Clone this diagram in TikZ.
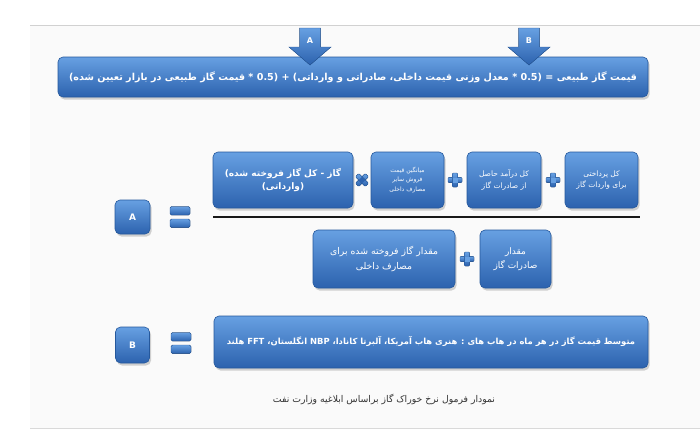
\documentclass[tikz,border=0pt]{standalone}
\usepackage{fontspec}
\setmainfont{DejaVu Sans}
\newfontfamily\arabicfont[Script=Arabic]{DejaVu Sans}
\TeXXeTstate=1
\usetikzlibrary{shadows}
\newcommand\rtltext[1]{\beginR#1\endR}
\definecolor{bluetop}{HTML}{67A0E2}
\definecolor{bluebot}{HTML}{2C62AE}
\definecolor{blueedge}{HTML}{25589C}
\tikzset{
  bbox/.style={rounded corners=5pt, top color=bluetop, bottom color=bluebot,
    draw=blueedge, line width=0.6pt,
    drop shadow={opacity=0.35, shadow xshift=1.5pt, shadow yshift=-2.5pt},
    text=white, align=center, inner sep=1pt},
  symfill/.style={top color=bluetop, bottom color=bluebot, draw=blueedge, line width=0.4pt},
  artxt/.style={font=\arabicfont\fontsize{#1pt}{1.55\dimexpr#1pt\relax}\selectfont},
  artxtb/.style={font=\arabicfont\bfseries\fontsize{#1pt}{1.55\dimexpr#1pt\relax}\selectfont},
  lettertxt/.style={text=white, font=\bfseries\fontsize{8}{9}\selectfont},
  pics/plussign/.style={code={
    \fill[symfill, rounded corners=1pt] (-7,-2.6) rectangle (7,2.6);
    \fill[symfill, rounded corners=1pt] (-2.6,-7) rectangle (2.6,7);
    \fill[bluetop] (-2.5,-2.5) rectangle (2.5,2.5);}},
  pics/timessign/.style={code={
    \begin{scope}[rotate=45]
    \fill[symfill, rounded corners=1pt] (-7,-2.4) rectangle (7,2.4);
    \fill[symfill, rounded corners=1pt] (-2.4,-7) rectangle (2.4,7);
    \fill[bluebot] (-2.3,-2.3) rectangle (2.3,2.3);
    \end{scope}}},
  pics/equalsign/.style={code={
    \fill[symfill, rounded corners=1.5pt] (-10,-10.5) rectangle (10,-2);
    \fill[symfill, rounded corners=1.5pt] (-10,2) rectangle (10,10.5);}}
}
\begin{document}
\begin{tikzpicture}[x=1pt,y=-1pt]
\useasboundingbox (0,0) rectangle (700,445);
\fill[white] (0,0) rectangle (700,445);
\fill[black!2] (30,25) rectangle (700,428);
\draw[black!18, line width=0.8pt] (30,25) -- (700,25);
\draw[black!15, line width=0.8pt] (30,428) -- (700,428);

% top formula bar
\node[bbox, minimum width=590pt, minimum height=40pt, artxtb=9.6] (bar) at (353,77)
  {\rtltext{قیمت گاز طبیعی = (\beginL0.5\endL{} * معدل وزنی قیمت داخلی، صادراتی و وارداتی) + (\beginL0.5\endL{} * قیمت گاز طبیعی در بازار تعیین شده)}};

% arrows A and B
\fill[symfill] (299.5,28) -- (320.5,28) -- (320.5,47) -- (331,47) -- (310,65) -- (289,47) -- (299.5,47) -- cycle;
\node[lettertxt] (la) at (310,41) {A};
\fill[symfill] (518.5,28) -- (539.5,28) -- (539.5,47) -- (550,47) -- (529,65) -- (508,47) -- (518.5,47) -- cycle;
\node[lettertxt] (lb) at (529,41) {B};

% numerator
\node[bbox, minimum width=140pt, minimum height=56pt, artxtb=9] (n1) at (283,180)
  {\rtltext{گاز - کل گاز فروخته شده)}\\ \rtltext{(وارداتی)}};
\pic at (362,180) {timessign};
\node[bbox, minimum width=73pt, minimum height=56pt, artxt=6] (n2) at (407.5,180)
  {\rtltext{میانگین قیمت}\\ \rtltext{فروش سایر}\\ \rtltext{مصارف داخلی}};
\pic at (455,180) {plussign};
\node[bbox, minimum width=74pt, minimum height=56pt, artxt=7.5] (n3) at (504,180)
  {\rtltext{کل درآمد حاصل}\\ \rtltext{از صادرات گاز}};
\pic at (553,180) {plussign};
\node[bbox, minimum width=73pt, minimum height=56pt, artxt=7.5] (n4) at (601.5,180)
  {\rtltext{کل پرداختی}\\ \rtltext{برای واردات گاز}};

% fraction line
\coordinate (fl) at (213,217);
\coordinate (fr) at (640,217);
\draw[line width=2.5pt, black!90] (fl) -- (fr);

% denominator
\node[bbox, minimum width=142pt, minimum height=58pt, artxt=9.3] (d1) at (384,259)
  {\rtltext{مقدار گاز فروخته شده برای}\\ \rtltext{مصارف داخلی}};
\pic at (467,259) {plussign};
\node[bbox, minimum width=71pt, minimum height=58pt, artxt=9] (d2) at (515.5,259)
  {\rtltext{مقدار}\\ \rtltext{صادرات گاز}};

% A =
\node[bbox, minimum width=35pt, minimum height=34pt, font=\bfseries\fontsize{9}{10}\selectfont] (ba) at (132.5,217) {A};
\pic at (180,217) {equalsign};

% B =
\node[bbox, minimum width=34pt, minimum height=36pt, font=\bfseries\fontsize{9}{10}\selectfont] (bb) at (132.5,345) {B};
\pic at (181,343) {equalsign};
\node[bbox, minimum width=434pt, minimum height=52pt, artxtb=8.4] (bdef) at (431,342)
  {\rtltext{متوسط قیمت گاز در هر ماه در هاب های : هنری هاب آمریکا، آلبرتا کانادا، \beginL NBP\endL{} انگلستان، \beginL FFT\endL{} هلند}};

% caption
\node[artxt=9.3, text=black!80] (cap) at (384,399)
  {\rtltext{نمودار فرمول نرخ خوراک گاز براساس ابلاغیه وزارت نفت}};
\end{tikzpicture}
\end{document}
